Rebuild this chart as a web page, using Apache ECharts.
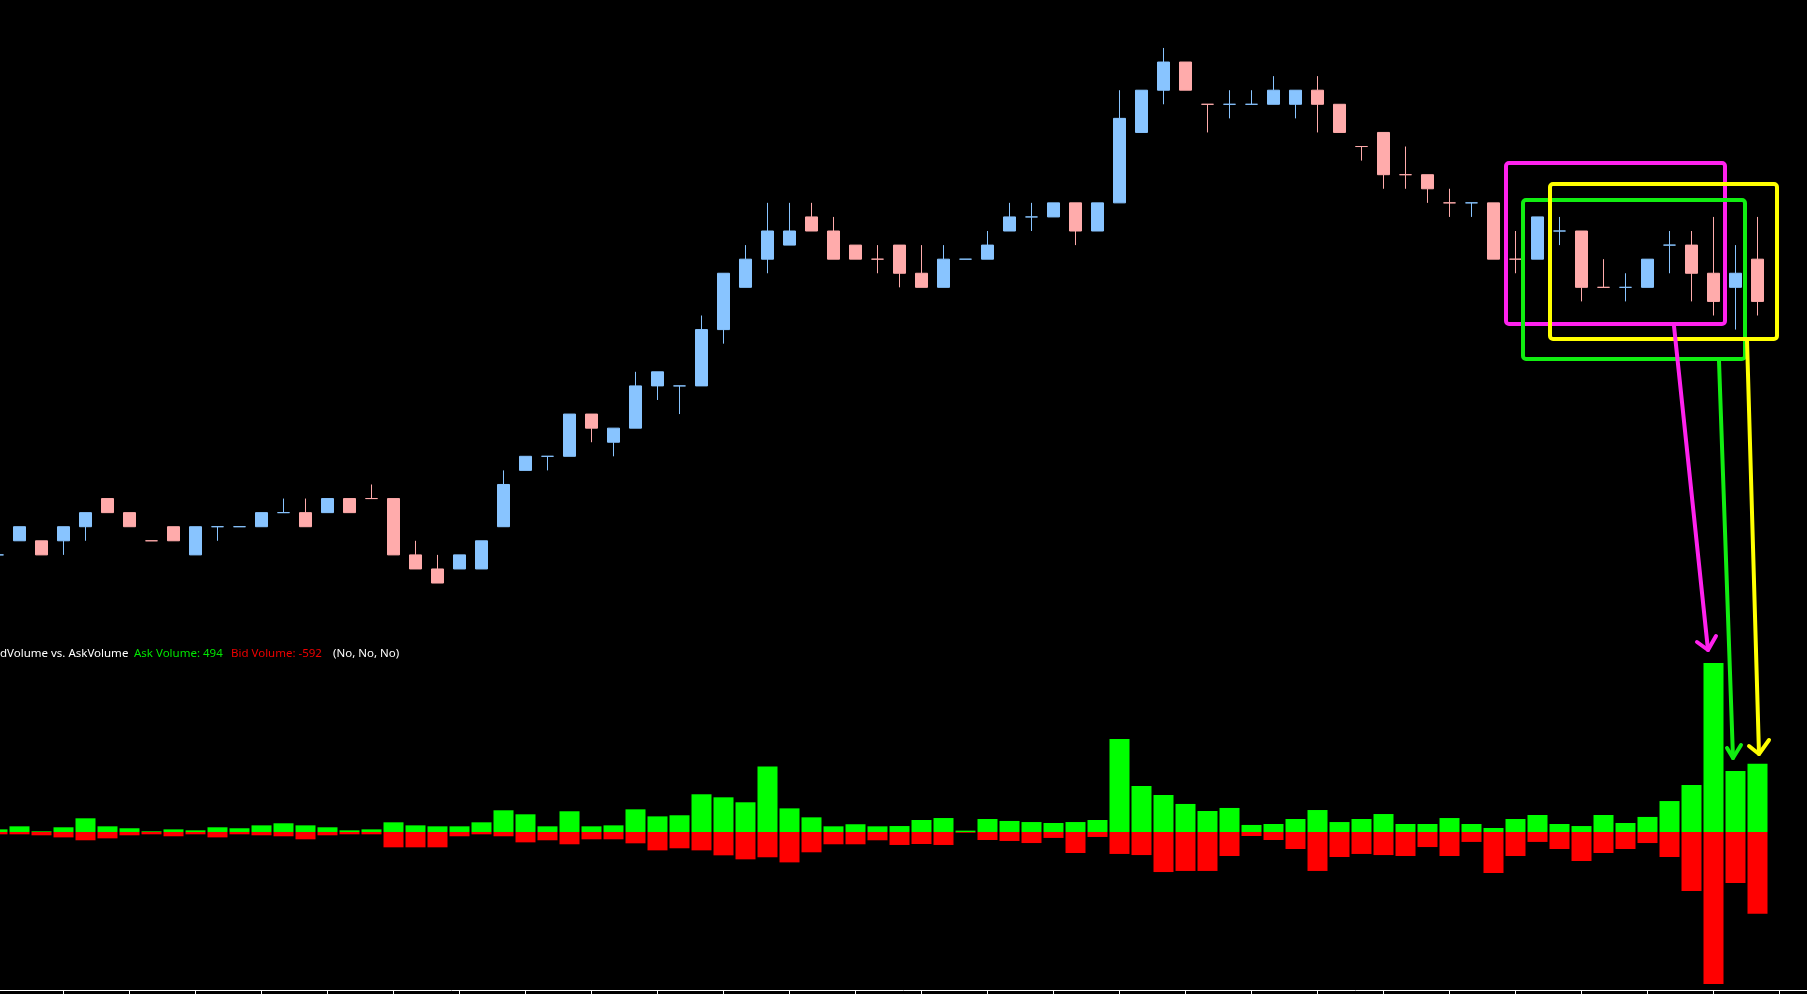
<!DOCTYPE html>
<html>
<head>
<meta charset="utf-8">
<script src="https://cdn.jsdelivr.net/npm/echarts@6/dist/echarts.min.js"></script>
<style>
html,body{margin:0;padding:0;background:#000;}
#chart{width:1807px;height:994px;}
</style>
</head>
<body>
<div id="chart"></div>
<script>
// Price in ticks (one tick per price step)
const openP  = [2,3,3,3,4,6,5,3,4,2,4,4,4,5,5,5,6,6,6,2,1,1,1,4,8,9,9,12,10,11,14,14,14,18,21,23,24,26,25,24,23,24,22,21,23,23,25,26,26,27,25,27,32,35,37,34,34,34,34,34,35,34,31,32,29,29,27,27,27,23,23,25,25,21,21,21,24,24,22,21,23];
const closeP = [2,4,2,4,5,5,4,3,3,4,4,4,5,5,4,6,5,6,2,1,0,2,3,7,9,9,12,11,11,14,15,14,18,22,23,25,25,25,23,23,23,22,21,23,23,24,26,26,27,25,27,33,35,37,35,34,34,34,35,35,34,32,31,29,29,28,27,27,23,23,26,25,21,21,21,23,24,22,20,22,20];
const lowP   = [2,3,2,2,3,5,4,3,3,2,3,4,4,5,4,5,5,6,2,1,0,1,1,4,8,8,9,10,9,11,13,12,14,17,21,22,24,25,23,23,22,21,21,21,23,23,25,25,26,24,25,27,32,34,35,32,33,34,34,33,32,32,30,28,28,27,26,26,23,22,23,24,20,21,20,21,22,20,19,18,19];
const highP  = [2,4,3,4,5,6,5,3,4,4,4,4,5,6,6,6,6,7,6,3,2,2,3,8,9,9,12,12,11,15,15,14,19,22,24,27,27,27,26,24,24,24,24,24,23,25,27,27,27,27,27,35,35,38,37,34,35,35,36,35,36,34,31,32,31,29,28,27,27,25,26,26,25,23,22,23,25,25,26,24,26];
// doji bars (open == close) drawn in the up colour
const dojiUp = [0,10,11,13,25,31,44,47,56,57,67,71,74,76];

// Ask / Bid volume per bar
const askVol = [19,41,5,34,99,41,27,5,19,12,34,27,48,63,48,34,12,19,70,48,41,41,70,157,128,41,150,41,48,164,113,121,273,251,215,475,171,106,41,56,41,43,87,101,10,94,80,72,65,72,87,673,333,268,203,152,174,51,58,94,159,72,94,130,58,58,101,58,29,94,123,58,43,123,65,109,224,340,1224,442,494];
const bidVol = [-17,-17,-24,-39,-60,-46,-24,-17,-31,-17,-39,-17,-24,-31,-53,-24,-17,-17,-111,-111,-111,-31,-17,-31,-75,-60,-89,-53,-53,-82,-133,-118,-133,-169,-198,-183,-220,-147,-89,-89,-60,-94,-87,-94,-5,-58,-65,-80,-43,-152,-36,-159,-167,-290,-282,-282,-174,-29,-58,-123,-282,-181,-159,-167,-174,-109,-174,-72,-297,-174,-72,-123,-210,-152,-123,-80,-181,-427,-1100,-369,-592];

// bar-number axis: first bar is cut at the left edge, two empty slots on the right
const X_MIN = 0.1136, X_MAX = 82.25;
const tickBars = [];
for (let b = 3; b <= 81; b += 3) tickBars.push(b);

const UP = '#88c4ff', DOWN = '#ffabab';
const candles = openP.map((o, i) => {
  const item = { value: [i, o, closeP[i], lowP[i], highP[i]] };
  if (o === closeP[i]) {
    const c = dojiUp.includes(i) ? UP : DOWN;
    item.itemStyle = { color: c, color0: c, borderColor: c, borderColor0: c };
  }
  return item;
});
const askData = askVol.map((v, i) => [i, v]);
const bidData = bidVol.map((v, i) => [i, v]);

const chart = echarts.init(document.getElementById('chart'), null, { renderer: 'canvas' });

function box(x, y, w, h, color) {
  return { type: 'rect', z: 100, shape: { x: x, y: y, width: w, height: h, r: 3 },
           style: { fill: 'none', stroke: color, lineWidth: 4 } };
}
function arrow(x1, y1, x2, y2, la, ra, color) {
  return { type: 'group', z: 100, children: [
    { type: 'polyline', z: 100, shape: { points: [[x1, y1], [x2, y2]] },
      style: { stroke: color, lineWidth: 4, lineCap: 'round', lineJoin: 'round', fill: 'none' } },
    { type: 'polyline', z: 100, shape: { points: [la, [x2, y2], ra] },
      style: { stroke: color, lineWidth: 4, lineCap: 'round', lineJoin: 'round', fill: 'none' } }
  ]};
}

const FONT = '11.5px "Noto Sans", "Open Sans", sans-serif';
chart.setOption({
  backgroundColor: '#000',
  animation: false,
  grid: [
    { left: 0, right: 0, top: 19.8, height: 591.4, containLabel: false },
    { left: 0, right: 0, top: 640, height: 350, containLabel: false }
  ],
  xAxis: [
    { type: 'value', gridIndex: 0, min: X_MIN, max: X_MAX, show: false, splitLine: { show: false } },
    { type: 'value', gridIndex: 1, min: X_MIN, max: X_MAX,
      axisLine: { show: true, onZero: false, lineStyle: { color: '#ffffff', width: 1 } },
      axisTick: { show: true, customValues: tickBars, length: 5, lineStyle: { color: '#ffffff', width: 1 } },
      axisLabel: { show: false }, splitLine: { show: false } }
  ],
  yAxis: [
    { type: 'value', gridIndex: 0, min: -2, max: 40, show: false, splitLine: { show: false } },
    { type: 'value', gridIndex: 1, min: -1144, max: 1390, show: false, splitLine: { show: false } }
  ],
  series: [
    { type: 'candlestick', xAxisIndex: 0, yAxisIndex: 0, data: candles, barWidth: 12,
      itemStyle: { color: UP, color0: DOWN, borderColor: UP, borderColor0: DOWN, borderWidth: 1 } },
    { type: 'bar', name: 'Ask Volume', xAxisIndex: 1, yAxisIndex: 1, data: askData, barWidth: 20, barGap: '-100%',
      itemStyle: { color: '#00ff00' } },
    { type: 'bar', name: 'Bid Volume', xAxisIndex: 1, yAxisIndex: 1, data: bidData, barWidth: 20, barGap: '-100%',
      itemStyle: { color: '#ff0000' } }
  ],
  graphic: [
    { type: 'text', left: 0, top: 648, z: 50, style: { text: 'dVolume vs. AskVolume', fill: '#ffffff', font: FONT } },
    { type: 'text', left: 134, top: 648, z: 50, style: { text: 'Ask Volume: 494', fill: '#00e600', font: FONT } },
    { type: 'text', left: 231, top: 648, z: 50, style: { text: 'Bid Volume: -592', fill: '#ee0000', font: FONT } },
    { type: 'text', left: 333, top: 648, z: 50, style: { text: '(No, No, No)', fill: '#ffffff', font: FONT } },
    box(1506, 163, 219, 161, '#ff22ee'),
    box(1523, 200, 222, 159, '#11ee11'),
    box(1550, 184, 227, 155, '#ffff00'),
    arrow(1674, 326, 1708, 650, [1697, 642], [1716, 636], '#ff22ee'),
    arrow(1719, 361, 1733, 758, [1727, 748], [1741, 745], '#11ee11'),
    arrow(1747, 340, 1759, 754, [1749, 746], [1769, 740], '#ffff00')
  ]
});
</script>
</body>
</html>
